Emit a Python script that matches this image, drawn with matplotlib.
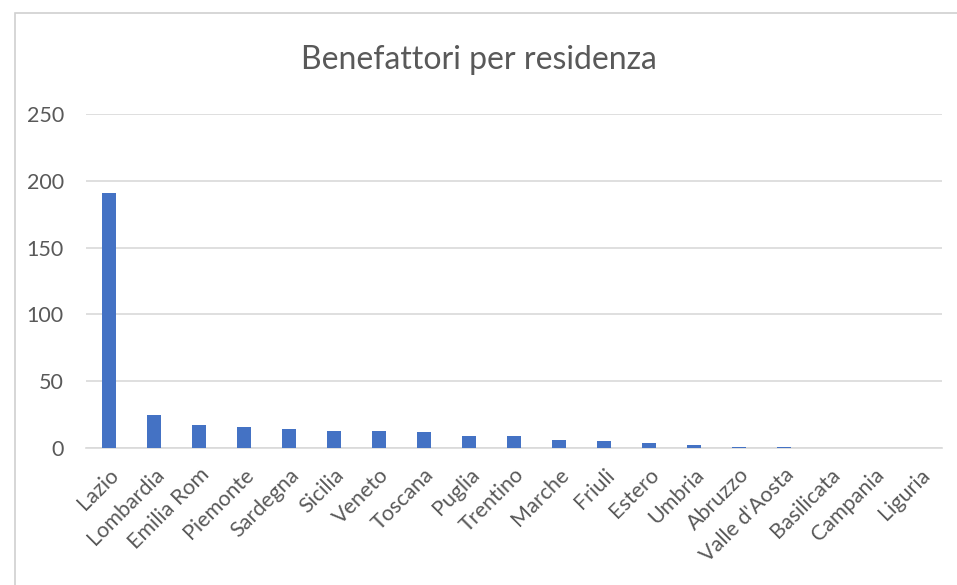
import matplotlib
matplotlib.use("Agg")
import matplotlib.pyplot as plt
import matplotlib.transforms as mtransforms
from matplotlib.patches import Rectangle

regions = ["Lazio", "Lombardia", "Emilia Rom", "Piemonte", "Sardegna", "Sicilia",
           "Veneto", "Toscana", "Puglia", "Trentino", "Marche", "Friuli", "Estero",
           "Umbria", "Abruzzo", "Valle d'Aosta", "Basilicata", "Campania", "Liguria"]
donors = [191, 25, 17, 16, 14, 13, 13, 12, 9, 9, 6, 5, 4, 2, 1, 1, 0, 0, 0]
yticks = [0, 50, 100, 150, 200, 250]

plt.rcParams["font.family"] = ["Lato", "DejaVu Sans"]
text_col = "#595959"
grid_col = "#d9d9d9"

fig = plt.figure(figsize=(9.57, 5.85), dpi=100)
fig.patches.append(Rectangle((15 / 957, -0.01), 1.0, 1 - 13 / 585 + 0.01,
                             transform=fig.transFigure, fill=False,
                             edgecolor="#d0d0d0", linewidth=1.2))

ax = fig.add_axes([86 / 957, 1 - 448 / 585, 856 / 957, (448 - 114) / 585])
x = range(len(regions))
ax.bar(x, donors, width=0.31, color="#4472c4", zorder=3)

ax.set_ylim(0, 250)
ax.set_xlim(-0.5, len(regions) - 0.5)
ax.set_yticks(yticks)
ax.set_xticks(list(x))
ax.set_xticklabels(regions, rotation=45, ha="right", rotation_mode="anchor")
ax.tick_params(axis="both", length=0, labelsize=15.5, colors=text_col)
ax.tick_params(axis="y", pad=16)
ax.tick_params(axis="x", pad=12)
shift = mtransforms.ScaledTranslation(0, 0, fig.dpi_scale_trans)
for lab in ax.get_xticklabels():
    lab.set_transform(lab.get_transform() + shift)
ax.grid(axis="y", color=grid_col, linewidth=1.2, zorder=0)
for s in ["top", "right", "left"]:
    ax.spines[s].set_visible(False)
ax.spines["bottom"].set_color(grid_col)
ax.spines["bottom"].set_linewidth(1.2)

fig.text(0.5, 1 - 60 / 585, "Benefattori per residenza", ha="center", va="center",
         fontsize=23, color=text_col)

fig.savefig("out.png", dpi=100)
